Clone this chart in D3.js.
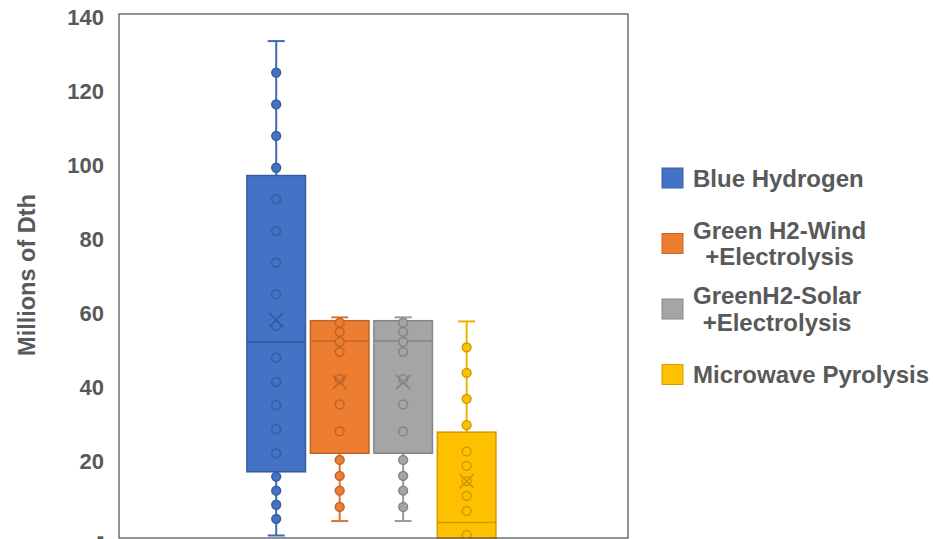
<!DOCTYPE html>
<html>
<head>
<meta charset="utf-8">
<script src="https://cdn.jsdelivr.net/npm/d3@7"></script>
<style>
  html, body { margin: 0; padding: 0; background: #fff; }
  svg { display: block; font-family: "Liberation Sans", Arial, sans-serif; }
</style>
</head>
<body>
<svg id="chart" width="933" height="539"></svg>
<script>
// Series shown in the one category, in drawing order
const seriesNames = ["Blue Hydrogen", "Green H2-Wind +Electrolysis", "GreenH2-Solar +Electrolysis", "Microwave Pyrolysis"];
const legendLines = [["Blue Hydrogen"], ["Green H2-Wind", "+Electrolysis"], ["GreenH2-Solar", "+Electrolysis"], ["Microwave Pyrolysis"]];
const seriesColors = ["#4472C4", "#ED7D31", "#A5A5A5", "#FFC000"];

// Box statistics (Millions of Dth)
const whiskerLow  = [0.0, 3.9, 3.9, -1.0];
const q1          = [17.2, 22.2, 22.2, -1.0];
const median      = [52.2, 52.5, 52.5, 3.5];
const q3          = [97.2, 58.0, 58.0, 27.9];
const whiskerHigh = [133.5, 58.9, 58.9, 57.8];
const means       = [58.2, 41.4, 41.4, 14.7];

// Individual data points per series
const bluePoints  = [125.0, 116.4, 107.9, 99.3, 90.8, 82.2, 73.7, 65.1, 56.6, 48.0, 41.5, 35.2, 28.7, 22.2, 15.9, 12.1, 8.3, 4.5];
const windPoints  = [57.5, 55.0, 52.3, 49.6, 42.2, 35.4, 28.1, 20.4, 16.1, 12.1, 7.7];
const solarPoints = [57.5, 55.0, 52.3, 49.6, 42.2, 35.4, 28.1, 20.4, 16.1, 12.1, 7.7];
const pyroPoints  = [50.8, 43.9, 36.9, 29.8, 22.7, 18.8, 14.7, 10.7, 6.6, 0.1];
const seriesPoints = [bluePoints, windPoints, solarPoints, pyroPoints];

// Value axis
const yTicks = [0, 20, 40, 60, 80, 100, 120, 140];
const yTickLabels = ["-", "20", "40", "60", "80", "100", "120", "140"];
const yTitle = "Millions of Dth";

const svg = d3.select("#chart");
const plot = { left: 119, right: 628, top: 14, bottom: 538 };
const textColor = "#595959";

const y = d3.scaleLinear().domain([0, 140]).range([535.5, 17]);

// One category band across the plot, split into one band per series
const x0 = d3.scaleBand().domain(["all"]).range([plot.left, plot.right])
  .paddingInner(0).paddingOuter(0.522).align(0.492);
const x1 = d3.scaleBand().domain(seriesNames).range([0, x0.bandwidth()])
  .paddingInner(0.077).paddingOuter(0);

const g = svg.append("g");

seriesNames.forEach((name, i) => {
  const color = seriesColors[i];
  const dark = d3.color(color).darker(0.6).formatHex();
  const line = d3.color(color).darker(0.2).formatHex();
  const bx = x0("all") + x1(name);
  const bw = x1.bandwidth();
  const cx = bx + bw / 2;
  const sg = g.append("g");

  // whiskers
  sg.append("line").attr("x1", cx).attr("x2", cx)
    .attr("y1", y(whiskerHigh[i])).attr("y2", y(q3[i]))
    .attr("stroke", line).attr("stroke-width", 2);
  sg.append("line").attr("x1", cx).attr("x2", cx)
    .attr("y1", y(q1[i])).attr("y2", y(whiskerLow[i]))
    .attr("stroke", line).attr("stroke-width", 2);
  [whiskerHigh[i], whiskerLow[i]].forEach(v => {
    sg.append("line").attr("x1", cx - 8.5).attr("x2", cx + 8.5)
      .attr("y1", y(v)).attr("y2", y(v))
      .attr("stroke", line).attr("stroke-width", 2);
  });

  // box
  sg.append("rect").attr("x", bx).attr("width", bw)
    .attr("y", y(q3[i])).attr("height", y(q1[i]) - y(q3[i]))
    .attr("fill", color).attr("stroke", dark).attr("stroke-width", 1.5);

  // median
  sg.append("line").attr("x1", bx).attr("x2", bx + bw)
    .attr("y1", y(median[i])).attr("y2", y(median[i]))
    .attr("stroke", dark).attr("stroke-width", 1.6);

  // points
  sg.selectAll("circle").data(seriesPoints[i]).join("circle")
    .attr("cx", cx).attr("cy", d => y(d)).attr("r", 4.4)
    .attr("fill", color).attr("stroke", dark).attr("stroke-width", 1.5);

  // mean marker
  const m = y(means[i]), s = 7;
  sg.append("path")
    .attr("d", `M${cx - s},${m - s}L${cx + s},${m + s}M${cx - s},${m + s}L${cx + s},${m - s}`)
    .attr("stroke", dark).attr("stroke-width", 1.7).attr("fill", "none");
});

// plot area border
svg.append("rect")
  .attr("x", plot.left).attr("y", plot.top)
  .attr("width", plot.right - plot.left).attr("height", plot.bottom - plot.top)
  .attr("fill", "none").attr("stroke", "#595959").attr("stroke-width", 1.3);

// value axis labels
const yAxis = d3.axisLeft(y).tickValues(yTicks).tickSize(0).tickPadding(15)
  .tickFormat((d, i) => yTickLabels[i]);
const ya = svg.append("g").attr("transform", `translate(${plot.left},0)`).call(yAxis);
ya.select(".domain").remove();
ya.selectAll("text").attr("fill", textColor).attr("font-size", 22).attr("font-weight", "bold")
  .attr("font-family", "Liberation Sans, Arial, sans-serif");

// axis title
svg.append("text")
  .attr("transform", "translate(27,275) rotate(-90)")
  .attr("text-anchor", "middle").attr("dominant-baseline", "central")
  .attr("fill", textColor).attr("font-size", 23.5).attr("font-weight", "bold")
  .text(yTitle);

// legend
const lg = svg.append("g");
legendLines.forEach((lines, i) => {
  const cy = 178 + i * 65.5;
  lg.append("rect").attr("x", 662).attr("y", cy - 10).attr("width", 21).attr("height", 20)
    .attr("fill", seriesColors[i]).attr("stroke", d3.color(seriesColors[i]).darker(0.55).formatHex())
    .attr("stroke-width", 1);
  const lh = 26.6;
  const first = lg.append("text")
    .attr("x", 693).attr("y", cy - (lines.length - 1) * lh / 2)
    .attr("dominant-baseline", "central")
    .attr("fill", textColor).attr("font-size", 24).attr("font-weight", "bold")
    .text(lines[0]);
  const w = first.node().getComputedTextLength();
  for (let k = 1; k < lines.length; k++) {
    lg.append("text")
      .attr("x", 693 + w / 2).attr("y", cy - (lines.length - 1) * lh / 2 + k * lh)
      .attr("text-anchor", "middle").attr("dominant-baseline", "central")
      .attr("fill", textColor).attr("font-size", 24).attr("font-weight", "bold")
      .text(lines[k]);
  }
});
</script>
</body>
</html>
